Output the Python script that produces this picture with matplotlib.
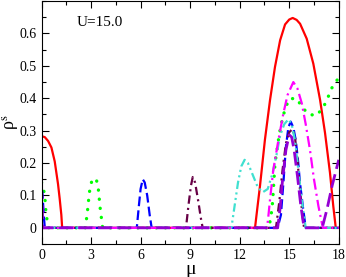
import matplotlib
matplotlib.use('Agg')
import matplotlib.pyplot as plt
from matplotlib.ticker import MultipleLocator

plt.rcParams['font.family'] = ['Liberation Serif', 'DejaVu Serif']
plt.rcParams['mathtext.fontset'] = 'stix'
plt.rcParams['lines.scale_dashes'] = False

# red solid
red_x = [0, 0.2, 0.4, 0.6, 0.8, 1.0, 1.1, 1.2, 1.25, 12.93, 13.08, 13.23, 13.53, 13.84, 14.14,
         14.45, 14.75, 15.0, 15.21, 15.45, 15.66, 16.06, 16.46, 16.87, 17.17, 17.47, 17.67,
         17.82, 18.0]
red_y = [0.283, 0.28, 0.268, 0.248, 0.205, 0.135, 0.09, 0.04, 0.0, 0.0, 0.065, 0.129, 0.272,
         0.395, 0.497, 0.579, 0.628, 0.643, 0.648, 0.642, 0.63, 0.584, 0.507, 0.395, 0.293,
         0.17, 0.067, 0.0, 0.0]

# green dotted
green_x = [0, 0.17, 0.23, 0.27, 0.37, 0.45, 2.65, 2.7, 2.78, 2.84, 2.9, 3.04, 3.2, 3.32, 3.44,
           3.56, 3.64, 3.7, 13.8, 13.84, 13.94, 14.0, 14.08, 14.14, 14.25, 14.35, 14.45, 14.59,
           14.75, 15.0, 15.42, 15.76, 16.12, 16.63, 17.03, 17.31, 17.53, 17.84, 18.0]
green_y = [0.14, 0.108, 0.078, 0.045, 0.014, 0.0, 0.0, 0.018, 0.05, 0.08, 0.11, 0.144, 0.153,
           0.15, 0.12, 0.057, 0.025, 0.0, 0.0, 0.021, 0.052, 0.083, 0.15, 0.2, 0.236, 0.272,
           0.303, 0.336, 0.367, 0.398, 0.40, 0.376, 0.352, 0.346, 0.369, 0.397, 0.428, 0.451,
           0.465]

# blue dashed
blue_x = [0, 0.05, 0.15, 0.2, 5.77, 5.9, 6.0, 6.13, 6.25, 6.4, 6.55, 6.67, 14.3, 14.5, 14.65,
          14.8, 14.95, 15.09, 15.25, 15.4, 15.55, 15.65, 15.85, 16.0, 18.0]
blue_y = [0.12, 0.11, 0.03, 0.0, 0.0, 0.07, 0.12, 0.15, 0.14, 0.1, 0.04, 0.0, 0.0, 0.04, 0.14,
          0.25, 0.31, 0.328, 0.31, 0.27, 0.2, 0.14, 0.057, 0.0, 0.0]

# maroon dash-dot
maroon_x = [0, 8.75, 8.9, 9.05, 9.16, 9.3, 9.5, 9.65, 9.76, 14.2, 14.4, 14.6, 14.8, 15.0, 15.2,
            15.35, 15.5, 15.65, 15.8, 15.9, 18.0]
maroon_y = [0.0, 0.0, 0.07, 0.13, 0.157, 0.14, 0.08, 0.03, 0.0, 0.0, 0.08, 0.18, 0.26, 0.295,
            0.305, 0.28, 0.21, 0.12, 0.04, 0.0, 0.0]

# cyan dash-dot-dot
cyan_x = [0, 11.5, 11.7, 11.9, 12.1, 12.3, 12.5, 12.7, 12.9, 13.1, 13.4, 13.7, 14.0, 14.25,
          14.45, 14.7, 14.95, 15.15, 15.35, 15.55, 15.75, 16.0, 18.0]
cyan_y = [0.0, 0.0, 0.07, 0.14, 0.19, 0.21, 0.2, 0.175, 0.15, 0.125, 0.11, 0.12, 0.17, 0.23,
          0.285, 0.32, 0.335, 0.32, 0.27, 0.18, 0.09, 0.0, 0.0]

# magenta dash-dot
magenta_x = [0, 13.66, 13.74, 13.84, 14.04, 14.35, 14.65, 14.9, 15.25, 15.5, 15.76, 16.0, 16.26,
             16.5, 16.77, 16.97, 17.05, 18.0]
magenta_y = [0.0, 0.0, 0.037, 0.088, 0.18, 0.272, 0.354, 0.41, 0.45, 0.43, 0.385, 0.32, 0.24,
             0.15, 0.067, 0.017, 0.0, 0.0]

# violet long dash
violet_x = [0, 0.05, 0.08, 14.3, 14.45, 14.6, 14.8, 15.0, 15.15, 15.3, 15.5, 15.7, 15.9, 17.0,
            17.3, 17.6, 18.0]
violet_y = [0.13, 0.06, 0.0, 0.0, 0.06, 0.15, 0.24, 0.287, 0.28, 0.24, 0.16, 0.07, 0.0, 0.0,
            0.06, 0.13, 0.21]

xticks = [0, 3, 6, 9, 12, 15, 18]
yticks = [0, 0.1, 0.2, 0.3, 0.4, 0.5, 0.6]
ytick_labels = ['0', '0.1', '0.2', '0.3', '0.4', '0.5', '0.6']

fig = plt.figure(figsize=(3.46, 2.77), dpi=100)
ax = fig.add_axes([0.12, 0.119, 0.859, 0.877])

lw = 1.6
ax.plot(red_x, red_y, color='#ff0000', lw=lw)
ax.plot(green_x, green_y, color='#00ff00', lw=2.4, dashes=(0.1, 6.5), dash_capstyle='round')
ax.plot(blue_x, blue_y, color='#0000ff', lw=lw, dashes=(7, 3))
ax.plot(maroon_x, maroon_y, color='#670045', lw=lw, dashes=(6, 3, 1.5, 3))
ax.plot(cyan_x, cyan_y, color='#40e0d0', lw=lw, dashes=(6, 2.5, 1.5, 2.5, 1.5, 2.5))
ax.plot(magenta_x, magenta_y, color='#ff00ff', lw=lw, dashes=(8, 3, 1.5, 3))
ax.plot(violet_x, violet_y, color='#9400d3', lw=lw + 0.4, dashes=(10, 4))

ax.set_xlim(0, 18)
ax.set_ylim(-0.05, 0.7)
ax.set_xticks(xticks)
ax.set_yticks(yticks)
ax.set_yticklabels(ytick_labels)
ax.xaxis.set_minor_locator(MultipleLocator(1.5))
ax.yaxis.set_minor_locator(MultipleLocator(0.05))
ax.tick_params(which='both', direction='in', top=True, right=True, labelsize=10, width=0.8)
ax.tick_params(which='major', length=5)
ax.tick_params(which='minor', length=3)
for s in ax.spines.values():
    s.set_linewidth(0.8)

ax.set_xlabel('μ', fontsize=14, labelpad=-1)
fig.text(11 / 346, 1 - 122 / 277, r'ρ$^{\rm s}$', fontsize=13, rotation=90,
         ha='center', va='center')
ax.text(2.15, 0.635, 'U=15.0', fontsize=11, va='center')

fig.savefig('out.png', dpi=100)
